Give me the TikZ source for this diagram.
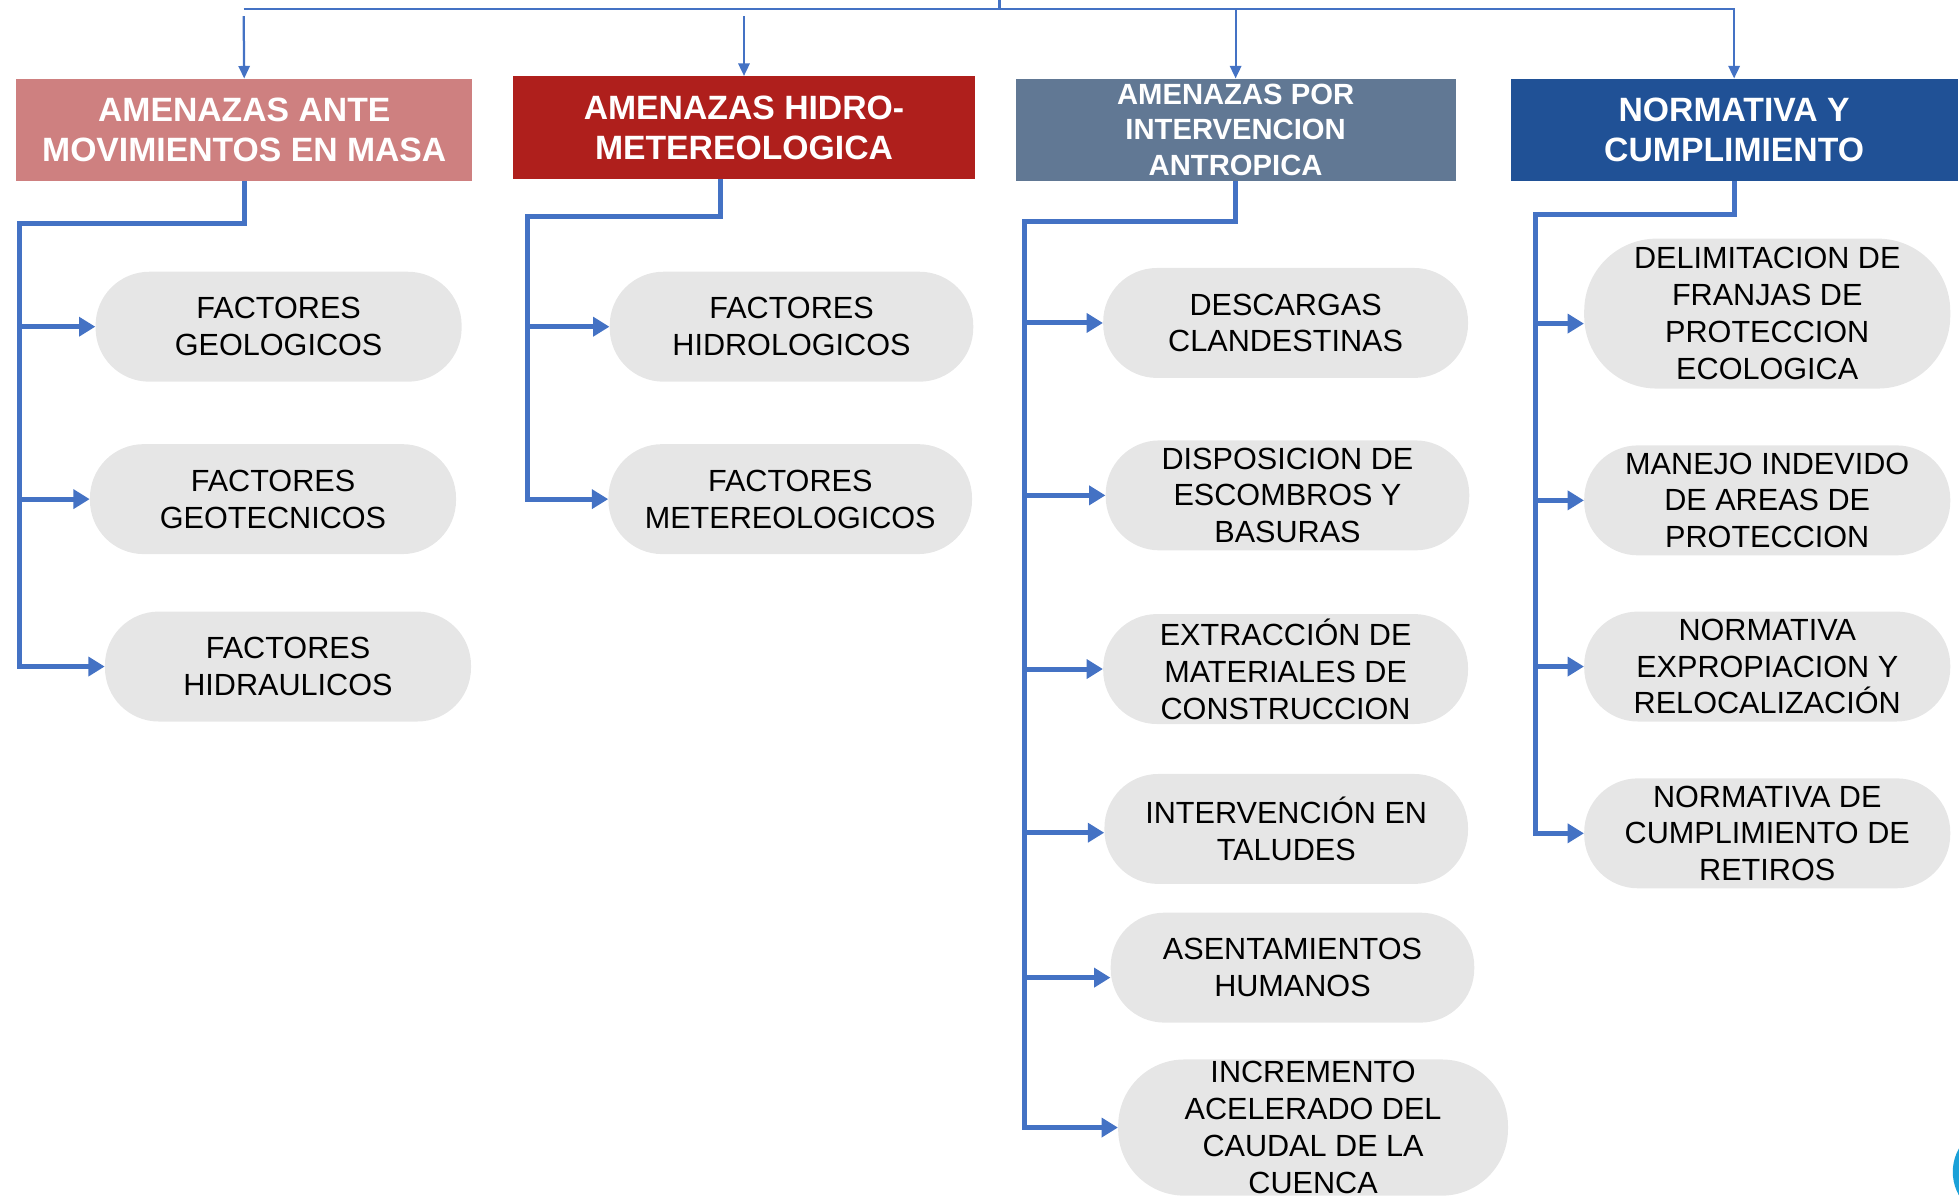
\documentclass[tikz,border=0pt]{standalone}
\usepackage{fontspec}
\setmainfont{Liberation Sans}
\usetikzlibrary{arrows.meta}
\definecolor{hA}{RGB}{206,128,128}
\definecolor{hB}{RGB}{175,31,28}
\definecolor{hC}{RGB}{97,120,148}
\definecolor{hD}{RGB}{32,81,150}
\definecolor{lineblue}{RGB}{68,114,196}
\definecolor{pillgray}{RGB}{230,230,230}
\definecolor{logoblue}{RGB}{27,161,216}
\tikzset{
  hdr/.style={rectangle, minimum height=82pt, text=white, align=center, inner sep=0pt,
    font=\fontsize{27}{32}\selectfont\bfseries},
  pill/.style={rectangle, rounded corners=43pt, fill=pillgray, minimum width=293pt,
    minimum height=88pt, align=center, text=black, inner sep=0pt,
    font=\fontsize{24.5}{29.5}\selectfont},
  trunk/.style={draw=lineblue, line width=4pt},
  brarrow/.style={trunk, -{Triangle[length=13pt,width=15pt]}},
  feed/.style={draw=lineblue, line width=1.8pt, -{Triangle[length=10pt,width=9pt]}},
  topline/.style={draw=lineblue, line width=1.8pt},
}
\begin{document}
\begin{tikzpicture}[x=1pt,y=-1pt]
\useasboundingbox (0,0) rectangle (1568,963);
% headers
\node[hdr, fill=hA, minimum width=365pt] (h1) at (195.5,104) {AMENAZAS ANTE\\MOVIMIENTOS EN MASA};
\node[hdr, fill=hB, minimum width=369pt] (h2) at (595.5,102) {AMENAZAS HIDRO-\\METEREOLOGICA};
\node[hdr, fill=hC, minimum width=352pt, font=\fontsize{23.4}{28.5}\selectfont\bfseries] (h3) at (989,104) {AMENAZAS POR\\INTERVENCION\\ANTROPICA};
\node[hdr, fill=hD, minimum width=358pt] (h4) at (1388,104) {NORMATIVA Y\\CUMPLIMIENTO};
% top connectors
\coordinate (tl) at (195,7);
\coordinate (tr) at (1388,7);
\coordinate (tm) at (800,0);
\coordinate (a1) at (195,13);
\coordinate (a2) at (595.5,13);
\draw[topline] (tm) -- (tm |- tl);
\draw[feed] (tl) -- (tr) -- (h4.north);
\draw[feed] (h3.north |- tl) -- (h3.north);
\draw[feed] (a1) -- (h1.north);
\draw[feed] (a2) -- (h2.north);
% column 1
\node[pill] (c11) at (223,261.5) {FACTORES\\GEOLOGICOS};
\node[pill] (c12) at (218.5,399.5) {FACTORES\\GEOTECNICOS};
\node[pill] (c13) at (230.5,533.5) {FACTORES\\HIDRAULICOS};
\coordinate (t1) at (16,179);
\draw[brarrow] (h1.south) |- (t1) |- (c13.west);
\draw[brarrow] (t1 |- c11.west) -- (c11.west);
\draw[brarrow] (t1 |- c12.west) -- (c12.west);
% column 2
\node[pill, minimum width=291pt] (c21) at (633.5,261.5) {FACTORES\\HIDROLOGICOS};
\node[pill, minimum width=291pt] (c22) at (632.5,399.5) {FACTORES\\METEREOLOGICOS};
\coordinate (t2) at (422,173);
\draw[brarrow] ([xshift=-18.5pt]h2.south) |- (t2) |- (c22.west);
\draw[brarrow] (t2 |- c21.west) -- (c21.west);
% column 3
\node[pill, minimum width=292pt] (c31) at (1029,258.5) {DESCARGAS\\CLANDESTINAS};
\node[pill, minimum width=291pt] (c32) at (1030.5,396.5) {DISPOSICION DE\\ESCOMBROS Y\\BASURAS};
\node[pill, minimum width=292pt] (c33) at (1029,535.5) {EXTRACCIÓN DE\\MATERIALES DE\\CONSTRUCCION};
\node[pill, minimum width=291pt] (c34) at (1029.5,663.5) {INTERVENCIÓN EN\\TALUDES};
\node[pill, minimum width=291pt] (c35) at (1034.5,774.5) {ASENTAMIENTOS\\HUMANOS};
\node[pill, minimum width=312pt, minimum height=109pt, rounded corners=53pt] (c36) at (1051,902.5) {INCREMENTO\\ACELERADO DEL\\CAUDAL DE LA\\CUENCA};
\coordinate (t3) at (820,177);
\draw[brarrow] (h3.south) |- (t3) |- (c36.west);
\draw[brarrow] (t3 |- c31.west) -- (c31.west);
\draw[brarrow] (t3 |- c32.west) -- (c32.west);
\draw[brarrow] (t3 |- c33.west) -- (c33.west);
\draw[brarrow] ([yshift=-3pt]t3 |- c34.west) -- ([yshift=-3pt]c34.west);
\draw[brarrow] ([yshift=-8pt]t3 |- c35.west) -- ([yshift=-8pt]c35.west);
% column 4
\node[pill, minimum height=120pt, rounded corners=58pt] (c41) at (1414.5,251) {DELIMITACION DE\\FRANJAS DE\\PROTECCION\\ECOLOGICA};
\node[pill] (c42) at (1414.5,400.5) {MANEJO INDEVIDO\\DE AREAS DE\\PROTECCION};
\node[pill] (c43) at (1414.5,533.5) {NORMATIVA\\EXPROPIACION Y\\RELOCALIZACIÓN};
\node[pill] (c44) at (1414.5,667) {NORMATIVA DE\\CUMPLIMIENTO DE\\RETIROS};
\coordinate (t4) at (1229,172);
\draw[brarrow] (h4.south) |- (t4) |- (c44.west);
\draw[brarrow] ([yshift=-8pt]t4 |- c41.west) -- ([yshift=-8pt]c41.west);
\draw[brarrow] (t4 |- c42.west) -- (c42.west);
\draw[brarrow] (t4 |- c43.west) -- (c43.west);
% partial logo at the corner
\begin{scope}
\clip (0,0) rectangle (1568,963);
\fill[logoblue] (1601,938) circle (38pt);
\end{scope}
\end{tikzpicture}
\end{document}
